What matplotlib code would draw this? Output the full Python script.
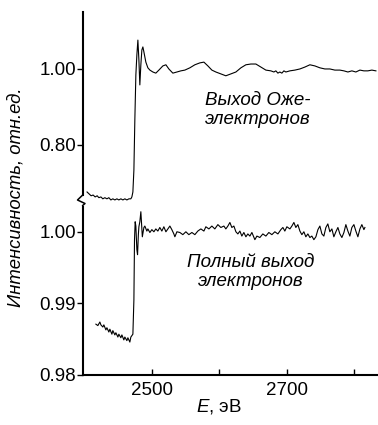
import matplotlib
matplotlib.use("Agg")
import matplotlib.pyplot as plt
from matplotlib.lines import Line2D

plt.rcParams["font.family"] = ["Liberation Sans", "DejaVu Sans"]
plt.rcParams["mathtext.fontset"] = "custom"
plt.rcParams["mathtext.it"] = "Liberation Sans:italic"
plt.rcParams["mathtext.rm"] = "Liberation Sans"

# ── Данные ─────────────────────────────────────────────────────────────────────
# Выход Оже-электронов (верхняя панель)
auger_e = [2404, 2407, 2410, 2413, 2416, 2419, 2421.5, 2424.5, 2427.4, 2430.4,
           2433.4, 2436.3, 2439.3, 2442.2, 2445.2, 2448.2, 2451.1, 2454.1, 2457.1, 2460,
           2463, 2466, 2468.9, 2470.4, 2471.9, 2473.4, 2474.8, 2476.3, 2477.8, 2479.3,
           2480.8, 2482.2, 2483.7, 2485.2, 2486.7, 2488.2, 2491.1, 2494.1, 2497.1, 2501.5,
           2505.9, 2510.4, 2516.3, 2520.8, 2525.2, 2531.1, 2537.1, 2543.0, 2548.9, 2556.3,
           2563.7, 2571.1, 2577.1, 2583.0, 2588.9, 2594.8, 2602.2, 2609.6, 2617.1, 2624.5,
           2631.9, 2639.3, 2646.7, 2654.1, 2661.5, 2668.9, 2676.3, 2680.8, 2683.7, 2686.7,
           2689.6, 2692.6, 2695.6, 2698.5, 2704.5, 2711.9, 2719.3, 2726.7, 2734.1, 2741.5,
           2748.9, 2756.3, 2763.7, 2771.1, 2778.5, 2784.5, 2790.4, 2796.3, 2802.2, 2808.2,
           2814.1, 2820.0, 2825.9, 2831.9]
auger_i = [0.676, 0.671, 0.666, 0.668, 0.663, 0.666, 0.661, 0.663, 0.658, 0.661,
           0.658, 0.661, 0.655, 0.658, 0.655, 0.658, 0.655, 0.658, 0.655, 0.658,
           0.655, 0.658, 0.658, 0.663, 0.676, 0.734, 0.866, 0.984, 1.037, 1.076,
           1.024, 0.958, 1.011, 1.050, 1.058, 1.045, 1.018, 1.003, 0.997, 0.992,
           0.989, 0.997, 1.008, 1.011, 1.000, 0.989, 0.992, 0.995, 0.997, 1.003,
           1.011, 1.016, 1.018, 1.008, 0.997, 0.992, 0.987, 0.982, 0.987, 0.992,
           1.003, 1.011, 1.013, 1.013, 1.005, 0.997, 0.995, 0.992, 0.995, 0.989,
           0.992, 0.989, 0.995, 0.992, 0.995, 0.997, 1.000, 1.005, 1.011, 1.008,
           1.003, 1.000, 1.000, 0.997, 0.997, 0.995, 0.992, 0.995, 0.992, 0.997,
           0.995, 0.995, 0.997, 0.995]

# Полный выход электронов (нижняя панель)
total_e = [2417.1, 2420.0, 2423.0, 2424.5, 2427.4, 2428.9, 2431.9, 2433.4, 2436.3, 2437.8,
           2440.8, 2442.2, 2445.2, 2446.7, 2449.7, 2451.1, 2454.1, 2455.6, 2458.5, 2460.0,
           2463.0, 2464.5, 2467.4, 2468.9, 2470.4, 2471.9, 2473.4, 2474.3, 2475.3, 2476.3,
           2477.8, 2478.8, 2480.0, 2480.8, 2482.2, 2483.7, 2485.2, 2485.9, 2488.2, 2489.6,
           2492.6, 2494.1, 2497.1, 2500.0, 2503.0, 2505.9, 2508.9, 2511.8, 2514.8, 2517.8,
           2520.8, 2523.7, 2526.7, 2529.6, 2532.6, 2534.1, 2537.1, 2541.5, 2545.9, 2550.4,
           2554.8, 2559.3, 2563.7, 2568.1, 2572.6, 2577.1, 2580.0, 2584.5, 2588.9, 2593.3,
           2597.8, 2602.2, 2606.7, 2609.6, 2612.6, 2615.6, 2618.5, 2621.5, 2624.5, 2627.4,
           2630.4, 2633.3, 2636.3, 2639.3, 2642.2, 2645.2, 2648.2, 2652.6, 2655.6, 2660.0,
           2664.4, 2668.9, 2673.3, 2677.8, 2682.2, 2686.7, 2691.1, 2694.1, 2697.0, 2700.0,
           2704.5, 2707.4, 2710.4, 2713.3, 2716.3, 2719.3, 2722.2, 2725.2, 2728.1, 2731.1,
           2734.1, 2737.0, 2740.0, 2743.0, 2746.0, 2748.9, 2751.9, 2754.8, 2757.8, 2760.7,
           2763.7, 2766.7, 2769.6, 2772.6, 2775.6, 2778.5, 2781.5, 2784.5, 2787.4, 2790.4,
           2793.3, 2796.3, 2799.3, 2802.2, 2805.2, 2808.2, 2811.1, 2814.1, 2815.6]
total_i = [0.9871, 0.9869, 0.9874, 0.9870, 0.9867, 0.9870, 0.9863, 0.9866, 0.9860, 0.9864,
           0.9857, 0.9862, 0.9856, 0.9859, 0.9853, 0.9857, 0.9852, 0.9856, 0.9849, 0.9853,
           0.9848, 0.9852, 0.9846, 0.9853, 0.9855, 0.9857, 0.9905, 0.9989, 1.0014, 1.0008,
           0.9975, 0.9968, 0.9996, 1.0007, 1.0014, 1.0028, 1.0003, 0.9993, 1.0006, 1.0008,
           1.0001, 1.0004, 0.9999, 1.0003, 1.0000, 1.0004, 1.0001, 1.0006, 1.0001, 1.0007,
           1.0000, 1.0004, 1.0008, 1.0003, 0.9997, 0.9993, 1.0000, 0.9999, 0.9996, 1.0000,
           0.9996, 0.9999, 0.9996, 1.0001, 1.0004, 1.0001, 1.0007, 1.0004, 1.0008, 1.0004,
           1.0010, 1.0006, 1.0008, 1.0004, 1.0008, 1.0013, 1.0006, 1.0008, 1.0000, 0.9997,
           1.0001, 0.9994, 0.9999, 0.9993, 0.9997, 0.9994, 0.9999, 0.9989, 0.9994, 0.9992,
           0.9997, 0.9994, 0.9999, 0.9996, 1.0000, 0.9997, 1.0003, 1.0006, 1.0001, 1.0007,
           1.0004, 1.0008, 1.0013, 1.0006, 1.0010, 1.0001, 0.9996, 1.0000, 0.9993, 0.9997,
           0.9992, 0.9994, 0.9989, 0.9993, 1.0003, 1.0008, 0.9997, 0.9994, 1.0006, 1.0011,
           1.0000, 1.0004, 0.9993, 1.0000, 1.0006, 0.9997, 0.9992, 0.9999, 1.0010, 1.0001,
           0.9994, 1.0006, 1.0010, 1.0001, 0.9993, 1.0004, 1.0010, 1.0003, 1.0006]

x_ticks = [2500, 2600, 2700, 2800]
x_ticklabels = ["2500", "", "2700", ""]
top_ticks = [0.80, 1.00]
bot_ticks = [0.98, 0.99, 1.00]

# ── Фигура ─────────────────────────────────────────────────────────────────────
W, H = 378, 425
fig = plt.figure(figsize=(W / 100, H / 100), dpi=100)

L = 83 / W
ax_top = fig.add_axes([L, 1 - 203 / H, 1 - L, (203 - 12) / H])
ax_bot = fig.add_axes([L, 1 - 375 / H, 1 - L, (375 - 206) / H])

XLIM = (2398, 2835)
FS = 13.5
SPW = 1.5

for ax in (ax_top, ax_bot):
    ax.set_xlim(*XLIM)
    ax.patch.set_visible(False)
    for s in ("top", "right"):
        ax.spines[s].set_visible(False)
    ax.spines["left"].set_linewidth(SPW)
    ax.tick_params(axis="y", direction="out", length=4, width=1.0, pad=1, labelsize=FS)

ax_top.plot(auger_e, auger_i, color="black", lw=0.8)
ax_top.set_ylim(0.647, 1.15)
ax_top.spines["bottom"].set_visible(False)
ax_top.spines["left"].set_bounds(0.668, 1.15)
ax_top.set_yticks(top_ticks)
ax_top.set_yticklabels([f"{v:.2f}" for v in top_ticks])
ax_top.set_xticks([])

ax_bot.plot(total_e, total_i, color="black", lw=0.8)
ax_bot.set_ylim(0.98, 1.0036)
ax_bot.spines["left"].set_bounds(0.98, 1.0035)
ax_bot.spines["bottom"].set_linewidth(SPW)
ax_bot.set_yticks(bot_ticks)
ax_bot.set_yticklabels([f"{v:.2f}" for v in bot_ticks])
ax_bot.set_xticks(x_ticks)
ax_bot.set_xticklabels(x_ticklabels)
ax_bot.tick_params(axis="x", direction="in", length=4, width=1.0, pad=5, labelsize=FS)

# разрыв оси
zx = [82.7, 77.5, 85.0, 82.7]
zy = [195, 200, 203.5, 205.5]
fig.add_artist(Line2D([x / W for x in zx], [1 - y / H for y in zy],
                      transform=fig.transFigure, color="black", lw=1.1))

# подписи
fig.text(258 / W, 1 - 110 / H, "Выход Оже-\nэлектронов", style="italic",
         fontsize=FS, ha="center", va="center", linespacing=1.1)
fig.text(251 / W, 1 - 272 / H, "Полный выход\nэлектронов", style="italic",
         fontsize=FS, ha="center", va="center", linespacing=1.1)
fig.text(16 / W, 1 - 197 / H, "Интенсивность, отн.ед.", style="italic",
         fontsize=13.3, rotation=90, ha="center", va="center")
fig.text(219 / W, 1 - 407 / H, "$E$, эВ", fontsize=FS, ha="center", va="center")

fig.savefig("out.png", dpi=100)
